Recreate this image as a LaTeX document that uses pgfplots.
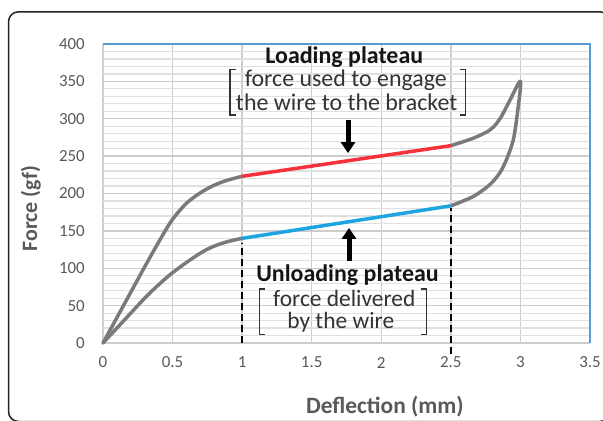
\documentclass[border=0pt]{standalone}
\usepackage{pgfplots}
\pgfplotsset{compat=1.18}
\usepackage{fontspec}
\setmainfont{Carlito}
\usetikzlibrary{arrows.meta}
\definecolor{curvegray}{RGB}{122,122,122}
\definecolor{loadred}{RGB}{245,50,60}
\definecolor{unloadblue}{RGB}{30,165,225}
\definecolor{frameblue}{RGB}{91,155,213}
\definecolor{ticktext}{RGB}{89,89,89}
\definecolor{textdark}{RGB}{50,50,55}
\definecolor{gridmaj}{RGB}{205,205,205}
\definecolor{gridmin}{RGB}{224,224,224}
\begin{document}
\begin{tikzpicture}
\begin{axis}[
  at={(103bp,-343bp)}, anchor=south west,
  scale only axis, width=487bp, height=299bp,
  xmin=0, xmax=3.5, ymin=0, ymax=400,
  xtick={0,0.5,1,1.5,2,2.5,3,3.5}, ytick={0,50,...,400},
  minor y tick num=4,
  xmajorgrids, ymajorgrids, yminorgrids,
  major grid style={draw=gridmaj, line width=1.3bp},
  minor grid style={draw=gridmin, line width=1.2bp},
  major tick length=0pt, minor tick length=0pt,
  axis line style={draw=none},
  clip=false,
  /pgf/number format/assume math mode=true,
  ticklabel style={font=\fontsize{17}{20}\selectfont, text=ticktext, inner sep=0pt},
  xticklabel style={anchor=center, yshift=-19.5bp},
  yticklabel style={anchor=east, xshift=-18bp},
  xlabel={Deflection (mm)}, ylabel={Force (gf)},
  xlabel style={at={(axis description cs:0.579,-0.235)}, anchor=base, font=\fontsize{23.5}{26}\selectfont\bfseries, text=ticktext},
  ylabel style={at={(axis description cs:-0.1355,0.45)}, anchor=base, font=\fontsize{22}{26}\selectfont\bfseries, text=ticktext},
]
% frame top and right
\draw[frameblue, line width=1.5bp] (rel axis cs:0,1) -- (rel axis cs:1,1) -- (rel axis cs:1,0);
% dashed guides
\addplot[black, line width=1.3bp, dash pattern=on 7bp off 4bp] coordinates {(1,0) (1,134)};
\addplot[black, line width=1.3bp, dash pattern=on 7bp off 4bp] coordinates {(2.5,-15) (2.5,180)};
% curves
\addplot[curvegray, line width=3.5bp, smooth, tension=0.6, line cap=round] coordinates {(0,0) (0.15,51) (0.3,102) (0.4,135) (0.48,160) (0.55,177) (0.625,191) (0.745,206) (0.865,216) (1,223)};
\addplot[curvegray, line width=3.5bp, smooth, tension=0.6, line cap=round] coordinates {(0,0) (0.15,30) (0.3,60) (0.4,78) (0.5,94) (0.625,111) (0.745,125) (0.865,134) (1,140)};
\addplot[curvegray, line width=3.5bp, smooth, tension=0.5, line join=round] coordinates {(2.5,264) (2.661,274) (2.781,285) (2.853,300) (2.925,325) (3.0,350) (2.98,310) (2.949,272) (2.901,246) (2.853,228) (2.781,212) (2.661,196) (2.5,183.5)};
\addplot[loadred, line width=3.5bp] coordinates {(1,223) (2.5,264)};
\addplot[unloadblue, line width=3.5bp] coordinates {(1,140) (2.5,183.5)};
% arrows
\draw[black, line width=5bp, -{Triangle[width=14bp,length=11bp]}] (axis cs:1.761,298) -- (axis cs:1.761,254);
\draw[black, line width=5bp, -{Triangle[width=14bp,length=11bp]}] (axis cs:1.768,110) -- (axis cs:1.768,154);
% texts
\node[anchor=base, inner sep=0pt, font=\fontsize{24}{28}\selectfont\bfseries, text=black!92] at (axis cs:1.734,374.2) {Loading plateau};
\node[anchor=base, inner sep=0pt, font=\fontsize{24}{28}\selectfont, text=textdark] at (axis cs:1.745,342.9) {force used to engage};
\node[anchor=base, inner sep=0pt, font=\fontsize{24}{28}\selectfont, text=textdark] at (axis cs:1.751,311.7) {the wire to the bracket};
\node[anchor=base, inner sep=0pt, font=\fontsize{24}{28}\selectfont\bfseries, text=black!92] at (axis cs:1.757,82) {Unloading plateau};
\node[anchor=base, inner sep=0pt, font=\fontsize{23.5}{28}\selectfont, text=textdark] at (axis cs:1.734,49.5) {force delivered};
\node[anchor=base, inner sep=0pt, font=\fontsize{23.5}{28}\selectfont, text=textdark] at (axis cs:1.709,20) {by the wire};
% brackets
\draw[textdark, line width=1.5bp] (axis cs:0.956,366) -- (axis cs:0.913,366) -- (axis cs:0.913,305) -- (axis cs:0.956,305);
\draw[textdark, line width=1.5bp] (axis cs:2.566,366) -- (axis cs:2.607,366) -- (axis cs:2.607,305) -- (axis cs:2.566,305);
\draw[textdark, line width=1.5bp] (axis cs:1.164,72.2) -- (axis cs:1.124,72.2) -- (axis cs:1.124,11.6) -- (axis cs:1.164,11.6);
\draw[textdark, line width=1.5bp] (axis cs:2.283,72.2) -- (axis cs:2.326,72.2) -- (axis cs:2.326,11.6) -- (axis cs:2.283,11.6);
\end{axis}
\draw[rounded corners=10bp, line width=1.5bp, color={rgb,255:red,35;green,35;blue,35}] (8.5bp,-11.8bp) rectangle (610bp,-421.5bp);
\pgfresetboundingbox
\useasboundingbox (0,0) rectangle (603bp,-421bp);
\end{tikzpicture}
\end{document}
